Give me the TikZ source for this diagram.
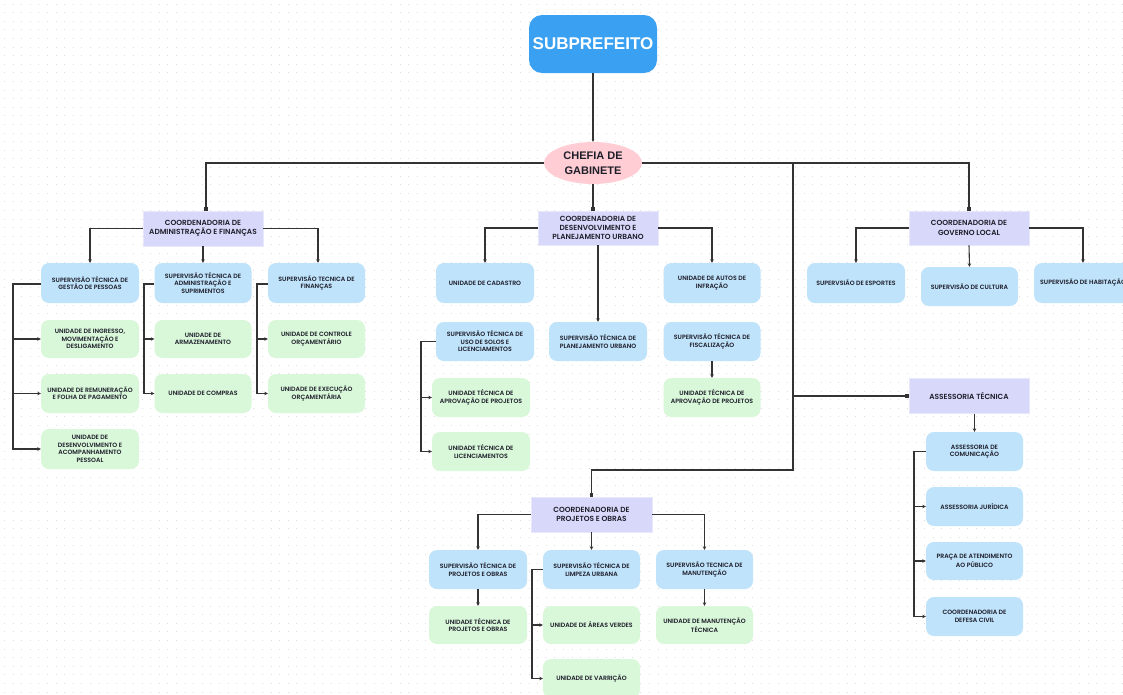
\documentclass[tikz,border=0pt]{standalone}
\usepackage{fontspec}
\usetikzlibrary{arrows.meta,shapes.geometric}
\newfontfamily\popf{Poppins SemiBold}
\newfontfamily\arialf{Liberation Sans}
\definecolor{cblue}{HTML}{BFE3FB}
\definecolor{cgreen}{HTML}{D9F8DA}
\definecolor{clav}{HTML}{D8D8FA}
\definecolor{cpink}{HTML}{FFCDD3}
\definecolor{csub}{HTML}{3AA1F2}
\definecolor{cline}{HTML}{333333}
\definecolor{ctext}{HTML}{1E1E2A}
\definecolor{cdot}{HTML}{DDDDDD}
\begin{document}
\begin{tikzpicture}[x=1pt,y=-1pt,
  conn/.style={draw=cline, line width=1.1pt},
  arr/.style={conn, -{Stealth[length=3.5pt,width=3.5pt]}},
  sq/.style={conn, -{Square[length=3.5pt,width=3.5pt]}},
  boxbase/.style={rounded corners=8pt, align=center, inner sep=1pt, text=ctext, font=\popf\fontsize{6.2}{7.5}\selectfont},
  supbox/.style={boxbase, fill=cblue, minimum width=97pt, minimum height=39pt},
  unibox/.style={boxbase, fill=cgreen, minimum width=97pt, minimum height=39pt},
  coordbox/.style={fill=clav, draw=clav!60!white, line width=0.6pt, align=center, minimum width=120pt, minimum height=35pt, inner sep=1pt, text=ctext, font=\popf\fontsize{7.4}{9.3}\selectfont},
]
\useasboundingbox (0,0) rectangle (1123,694);
\clip (0,0) rectangle (1123,694);
\fill[white] (0,0) rectangle (1123,694);
\foreach \r in {0,...,81}{
  \draw[cdot, line width=1pt, dash pattern=on 1pt off 7.6pt] (4,{4+8.6*\r}) -- (1123,{4+8.6*\r});
}

% top
\node[fill=csub, rounded corners=13pt, minimum width=128pt, minimum height=58pt, text=white, font=\arialf\bfseries\fontsize{17}{20}\selectfont] (sub) at (593,44) {SUBPREFEITO};
\node[ellipse, fill=cpink, minimum width=98pt, minimum height=42pt, inner sep=0pt, align=center, text=ctext, font=\arialf\bfseries\fontsize{11}{14.5}\selectfont] (chefia) at (593,163) {CHEFIA DE\\GABINETE};

% administracao
\node[coordbox] (ca) at (203,228.5) {COORDENADORIA DE\\ADMINISTRAÇÃO E FINANÇAS};
\node[supbox, minimum width=98pt, minimum height=40pt] (sg) at (90,283) {SUPERVISÃO TÉCNICA DE\\GESTÃO DE PESSOAS};
\node[supbox, minimum height=40pt] (sa) at (203,283) {SUPERVISÃO TÉCNICA DE\\ADMINISTRAÇÃO E\\SUPRIMENTOS};
\node[supbox, minimum height=40pt] (sf) at (316.5,283) {SUPERVISÃO TECNICA DE\\FINANÇAS};
\node[unibox, minimum width=98pt, minimum height=38pt] (ug1) at (90,339) {UNIDADE DE INGRESSO,\\MOVIMENTAÇÃO E\\DESLIGAMENTO};
\node[unibox, minimum width=98pt] (ug2) at (90,393.5) {UNIDADE DE REMUNERAÇÃO\\E FOLHA DE PAGAMENTO};
\node[unibox, minimum width=98pt, minimum height=40pt] (ug3) at (90,449) {UNIDADE DE\\DESENVOLVIMENTO E\\ACOMPANHAMENTO\\PESSOAL};
\node[unibox, minimum height=38pt] (ua1) at (203,339) {UNIDADE DE\\ARMAZENAMENTO};
\node[unibox] (ua2) at (203,393.5) {UNIDADE DE COMPRAS};
\node[unibox, minimum height=38pt] (uf1) at (316.5,339) {UNIDADE DE CONTROLE\\ORÇAMENTÁRIO};
\node[unibox] (uf2) at (316.5,393.5) {UNIDADE DE EXECUÇÃO\\ORÇAMENTÁRIA};

% desenvolvimento
\node[coordbox, minimum height=34pt] (cd) at (598,228) {COORDENADORIA DE\\DESENVOLVIMENTO E\\PLANEJAMENTO URBANO};
\node[supbox, minimum width=98pt, minimum height=40pt] (ucad) at (485,283) {UNIDADE DE CADASTRO};
\node[supbox, minimum height=40pt] (uaut) at (712,283) {UNIDADE DE AUTOS DE\\INFRAÇÃO};
\node[supbox, minimum width=98pt] (sus) at (485,341.5) {SUPERVISÃO TÉCNICA DE\\USO DE SOLOS E\\LICENCIAMENTOS};
\node[supbox, minimum width=98pt] (spl) at (598,341.5) {SUPERVISÃO TÉCNICA DE\\PLANEJAMENTO URBANO};
\node[supbox] (sfi) at (712,341.5) {SUPERVISÃO TÉCNICA DE\\FISCALIZAÇÃO};
\node[unibox, minimum width=98pt] (uap1) at (481,397.5) {UNIDADE TÉCNICA DE\\APROVAÇÃO DE PROJETOS};
\node[unibox, minimum width=98pt] (ulic) at (481,451.5) {UNIDADE TÉCNICA DE\\LICENCIAMENTOS};
\node[unibox] (uap2) at (712,397.5) {UNIDADE TÉCNICA DE\\APROVAÇÃO DE PROJETOS};

% governo local
\node[coordbox, minimum height=34pt] (cg) at (969,228) {COORDENADORIA DE\\GOVERNO LOCAL};
\node[supbox, minimum width=98pt, minimum height=40pt] (ses) at (856,283) {SUPERVSIÃO DE ESPORTES};
\node[supbox] (scu) at (969.5,286.5) {SUPERVISÃO DE CULTURA};
\node[supbox, minimum width=98pt, minimum height=40pt] (sha) at (1083,283) {SUPERVISÃO DE HABITAÇÃO};

% assessoria
\node[coordbox] (at) at (969,396) {ASSESSORIA TÉCNICA};
\node[supbox] (ac) at (974.5,451.5) {ASSESSORIA DE\\COMUNICAÇÃO};
\node[supbox] (aj) at (974.5,506.5) {ASSESSORIA JURÍDICA};
\node[supbox, minimum height=38pt] (ap) at (974.5,561) {PRAÇA DE ATENDIMENTO\\AO PÚBLICO};
\node[supbox] (adc) at (974.5,616.5) {COORDENADORIA DE\\DEFESA CIVIL};

% projetos
\node[coordbox, minimum width=121pt] (cp) at (591.5,514.5) {COORDENADORIA DE\\PROJETOS E OBRAS};
\node[supbox, minimum width=98pt] (spo) at (478,569.5) {SUPERVISÃO TÉCNICA DE\\PROJETOS E OBRAS};
\node[supbox] (sli) at (591.5,569.5) {SUPERVISÃO TÉCNICA DE\\LIMPEZA URBANA};
\node[supbox] (sma) at (704.5,569.5) {SUPERVISÃO TECNICA DE\\MANUTENÇÃO};
\node[unibox, minimum width=98pt, minimum height=38pt] (upo) at (478,625) {UNIDADE TÉCNICA DE\\PROJETOS E OBRAS};
\node[unibox, minimum height=38pt] (uav) at (591.5,625) {UNIDADE DE ÁREAS VERDES};
\node[unibox] (uva) at (591.5,678.5) {UNIDADE DE VARRIÇÃO};
\node[unibox, minimum height=38pt] (uma) at (704.5,625) {UNIDADE DE MANUTENÇÃO\\TÉCNICA};

% trunk connectors
\coordinate (t1) at (793,163);
\coordinate (t2) at (793,470);
\draw[conn, -{Stealth[length=2.5pt,width=2.5pt]}] (sub.south) -- (chefia.north);
\draw[sq] (chefia.west) -| ([xshift=3pt]ca.north);
\draw[sq] (chefia.east) -| (cg.north);
\draw[sq] (chefia.south) -- (chefia.south |- cd.north);
\draw[sq] (t1) -- (t2) -| (cp.north);
\draw[sq] (t1 |- at.west) -- (at.west);

% administracao connectors
\draw[arr] (ca.west) -| (sg.north);
\draw[arr] (ca.south) -- (sa.north);
\draw[arr] (ca.east) -| ([xshift=1.5pt]sf.north);
\coordinate (bg) at (13,284);
\draw[arr] (sg.west |- bg) -- (bg) |- (ug3.west);
\draw[arr] (bg |- ug1.west) -- (ug1.west);
\draw[arr] (bg |- ug2.west) -- (ug2.west);
\coordinate (ba) at (144,284);
\draw[arr] (sa.west |- ba) -- (ba) |- (ua2.west);
\draw[arr] (ba |- ua1.west) -- (ua1.west);
\coordinate (bf) at (257,284);
\draw[arr] (sf.west |- bf) -- (bf) |- (uf2.west);
\draw[arr] (bf |- uf1.west) -- (uf1.west);

% desenvolvimento connectors
\draw[arr] (cd.west) -| (ucad.north);
\draw[arr] (cd.south) -- (spl.north);
\draw[arr] (cd.east) -| (uaut.north);
\coordinate (bs) at (421,341.5);
\draw[arr] (sus.west) -- (bs) |- (ulic.west);
\draw[arr] (bs |- uap1.west) -- (uap1.west);
\draw[arr] (sfi.south) -- (uap2.north);

% governo local connectors
\draw[arr] (cg.west) -| (ses.north);
\draw[arr] (cg.south) -- (scu.north);
\draw[arr] (cg.east) -| (sha.north);

% assessoria connectors
\draw[arr] (ac.north |- at.south) -- (ac.north);
\coordinate (bt) at (914,451.5);
\draw[arr] (ac.west) -- (bt) |- (adc.west);
\draw[arr] (bt |- aj.west) -- (aj.west);
\draw[arr] (bt |- ap.west) -- (ap.west);

% projetos connectors
\draw[arr] (cp.west) -| (spo.north);
\draw[arr] (cp.south) -- (sli.north);
\draw[arr] (cp.east) -| (sma.north);
\draw[arr] (spo.south) -- (upo.north);
\draw[arr] (sma.south) -- (uma.north);
\coordinate (bl) at (532,569.5);
\draw[arr] (sli.west) -- (bl) |- (uva.west);
\draw[arr] (bl |- uav.west) -- (uav.west);
\end{tikzpicture}
\end{document}
